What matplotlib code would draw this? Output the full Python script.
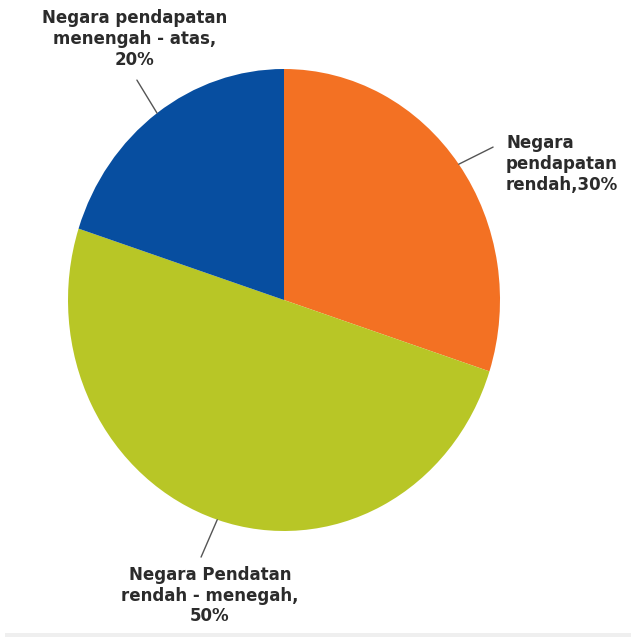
import matplotlib
matplotlib.use("Agg")
import matplotlib.pyplot as plt
import numpy as np
from matplotlib.patches import Rectangle

# Share of each income group (clockwise from 12 o'clock)
labels = [
    "Negara\npendapatan\nrendah,30%",
    "Negara Pendatan\nrendah - menegah,\n50%",
    "Negara pendapatan\nmenengah - atas,\n20%",
]
shares = [30, 50, 20]
colors = ["#F37123", "#B8C626", "#074EA0"]

fig = plt.figure(figsize=(6.31, 6.37), dpi=100)
W, H = 631, 637
# pie is slightly taller than wide, so the axes are not square
ax = fig.add_axes([68 / W, 1 - 531 / H, 432 / W, 462 / H])
wedges, _ = ax.pie(shares, colors=colors, startangle=90, counterclock=False,
                   radius=1.0, wedgeprops=dict(linewidth=0))
ax.set_aspect("auto")
ax.set_xlim(-1, 1)
ax.set_ylim(-1, 1)

# leader line end points and label anchors, per wedge
line_ends = [(0.968, 0.662), (-0.384, -1.113), (-0.681, 0.952)]
text_pos = [(1.028, 0.59), (-0.343, -1.28), (-0.69, 1.13)]
aligns = ["left", "center", "center"]

for w, lab, end, tp, ha in zip(wedges, labels, line_ends, text_pos, aligns):
    mid = np.deg2rad((w.theta1 + w.theta2) / 2)
    start = (np.cos(mid), np.sin(mid))
    ax.annotate("", xy=start, xytext=end, annotation_clip=False,
                arrowprops=dict(arrowstyle="-", color="#555555", lw=1,
                                shrinkA=0, shrinkB=0))
    ax.text(tp[0], tp[1], lab, ha=ha, va="center", fontsize=12,
            fontweight="bold", color="#2b2b2b", linespacing=1.2,
            multialignment=ha, clip_on=False)

# light strip along the bottom edge
fig.add_artist(Rectangle((5 / W, 0), 1, 4 / H, transform=fig.transFigure,
                         color="#efefef", lw=0))

fig.savefig("out.png", dpi=100)
